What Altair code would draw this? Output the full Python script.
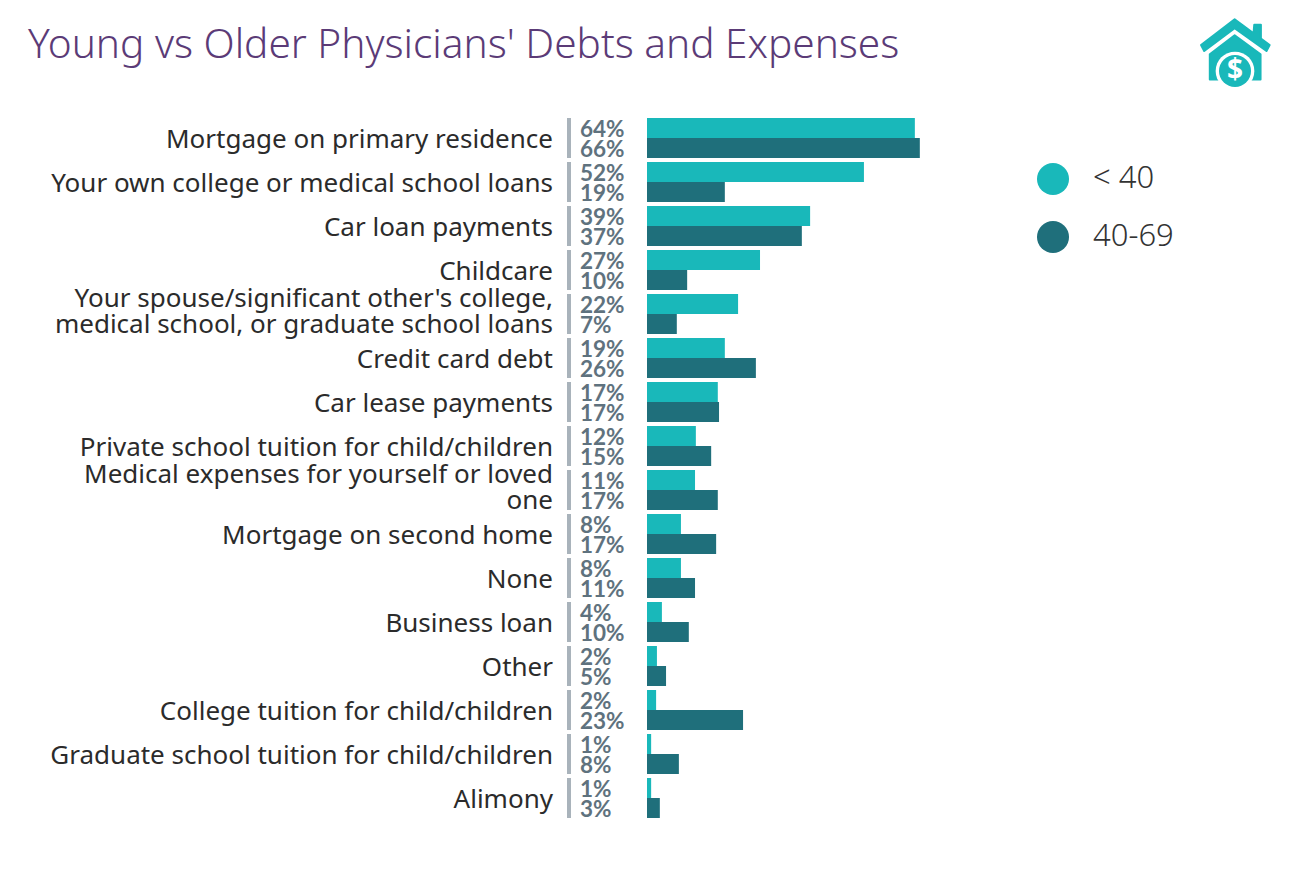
import altair as alt
import pandas as pd

FONT = "Noto Sans"
TEAL = "#19B8BA"
DARK = "#1F6F7B"

categories = [
    "Mortgage on primary residence",
    "Your own college or medical school loans",
    "Car loan payments",
    "Childcare",
    "Your spouse/significant other's college,|medical school, or graduate school loans",
    "Credit card debt",
    "Car lease payments",
    "Private school tuition for child/children",
    "Medical expenses for yourself or loved|one",
    "Mortgage on second home",
    "None",
    "Business loan",
    "Other",
    "College tuition for child/children",
    "Graduate school tuition for child/children",
    "Alimony",
]
young = [64.7, 52.4, 39.4, 27.3, 22.0, 18.8, 17.1, 11.8, 11.6, 8.2, 8.2, 3.6, 2.4, 2.2, 1.0, 1.0]
older = [65.9, 18.8, 37.4, 9.7, 7.2, 26.3, 17.4, 15.5, 17.1, 16.7, 11.6, 10.1, 4.6, 23.2, 7.7, 3.1]
young_labels = [64, 52, 39, 27, 22, 19, 17, 12, 11, 8, 8, 4, 2, 2, 1, 1]
older_labels = [66, 19, 37, 10, 7, 26, 17, 15, 17, 17, 11, 10, 5, 23, 8, 3]
groups = ["< 40", "40-69"]
title_text = "Young vs Older Physicians' Debts and Expenses"

rows = []
for c, y, o, yl, ol in zip(categories, young, older, young_labels, older_labels):
    rows.append({"cat": c, "group": groups[0], "value": y, "label": f"{yl}%"})
    rows.append({"cat": c, "group": groups[1], "value": o, "label": f"{ol}%"})
df = pd.DataFrame(rows)
cat_df = pd.DataFrame({"cat": categories})

y_enc = alt.Y(
    "cat:N",
    sort=categories,
    title=None,
    scale=alt.Scale(domain=categories, paddingInner=4 / 44, paddingOuter=2 / 44),
    axis=None,
)
x_scale = alt.Scale(domain=[0, 100], range=[0, 414])
y_off = alt.YOffset("group:N", sort=groups, scale=alt.Scale(paddingInner=0, paddingOuter=0))

bars = alt.Chart(df).mark_bar(stroke=None).encode(
    x=alt.X("value:Q", scale=x_scale, axis=None),
    y=y_enc,
    yOffset=y_off,
    fill=alt.Fill(
        "group:N",
        sort=groups,
        scale=alt.Scale(domain=groups, range=[TEAL, DARK]),
        legend=alt.Legend(
            title=None,
            orient="none",
            legendX=390,
            legendY=47,
            symbolType="circle",
            symbolSize=1024,
            symbolStrokeWidth=0,
            labelFont=FONT,
            labelFontSize=31,
            labelFontWeight=300,
            labelColor="#333333",
            labelOffset=24,
            rowPadding=26,
            padding=0,
        ),
    ),
)

seps = alt.Chart(cat_df).mark_bar(color="#A9B3BB").encode(
    x=alt.value(-80), x2=alt.value(-76), y=y_enc
)

cat_labels = (
    alt.Chart(cat_df)
    .transform_filter("indexof(datum.cat, '|') < 0")
    .mark_text(align="right", baseline="middle", font=FONT, fontSize=26, color="#2b2b2b", dy=2)
    .encode(x=alt.value(-94), y=y_enc, text="cat:N")
)
cat_labels_two = (
    alt.Chart(cat_df)
    .transform_filter("indexof(datum.cat, '|') >= 0")
    .transform_calculate(lines="split(datum.cat, '|')")
    .mark_text(align="right", baseline="middle", font=FONT, fontSize=26, color="#2b2b2b", dy=-15, lineHeight=26)
    .encode(x=alt.value(-94), y=y_enc, text="lines:N")
)

labels = alt.Chart(df).mark_text(
    align="left", baseline="middle", font="Lato", fontSize=22.5, fontWeight="bold", color="#5F727E", dy=2
).encode(
    x=alt.value(-67),
    y=y_enc,
    yOffset=y_off,
    text="label:N",
)

one = pd.DataFrame({"i": [0], "title": [title_text], "dollar": ["$"]})
HOUSE = (
    "M-0.97,-0.14 L-0.01,-0.88 L0.53,-0.48 L0.55,-0.72 L0.74,-0.72 L0.74,-0.33 L0.99,-0.14 "
    "L0.90,0.03 L-0.01,-0.62 L-0.88,0.03 Z "
    "M-0.72,0.12 L-0.01,-0.42 L0.73,0.12 L0.73,0.84 L-0.72,0.84 Z"
)
ix, iy = 1235 - 647, 50 - 116
house = alt.Chart(one).mark_point(
    filled=True, shape=HOUSE, size=4900, color=TEAL, opacity=1, stroke=TEAL, strokeWidth=2, strokeJoin="round"
).encode(x=alt.value(ix), y=alt.value(iy))
ring = alt.Chart(one).mark_point(filled=True, shape="circle", size=1497, color="white", opacity=1).encode(
    x=alt.value(ix), y=alt.value(iy + 21)
)
coin = alt.Chart(one).mark_point(filled=True, shape="circle", size=1024, color=TEAL, opacity=1).encode(
    x=alt.value(ix), y=alt.value(iy + 21)
)
dollar = alt.Chart(one).mark_text(font=FONT, fontSize=28, fontWeight="bold", color="white").encode(
    x=alt.value(ix), y=alt.value(iy + 21), text="dollar:N"
)
title = alt.Chart(one).mark_text(
    align="left", baseline="alphabetic", font=FONT, fontSize=40.6, fontWeight=300, color="#5B3B77"
).encode(x=alt.value(28 - 647), y=alt.value(58 - 116), text="title:N")

chart = (
    alt.layer(seps, bars, cat_labels, cat_labels_two, labels, house, ring, coin, dollar, title)
    .properties(
        width=414,
        height=704,
        autosize=alt.AutoSizeParams(type="none"),
        padding={"left": 639, "top": 108, "right": 221, "bottom": 42},
    )
    .configure_view(stroke=None)
)

chart.save("out.html", embed_options={"renderer": "svg", "actions": False})
